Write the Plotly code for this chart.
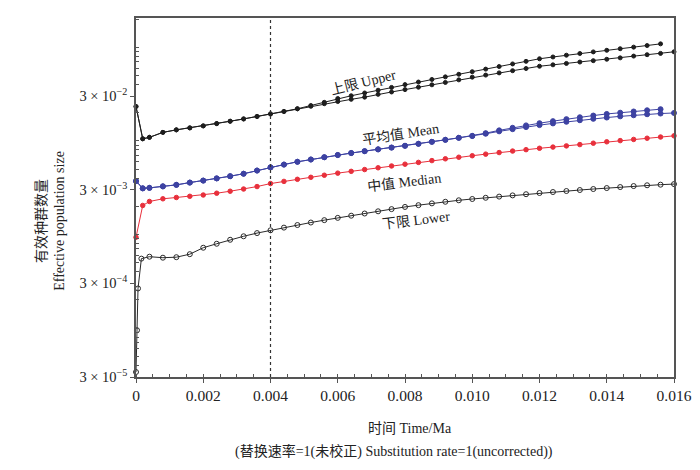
import plotly.graph_objects as go

# ---------------- data ----------------
time_ma = [0, 0.0002, 0.0004, 0.0008, 0.0012, 0.0016, 0.002, 0.0024, 0.0028, 0.0032,
           0.0036, 0.004, 0.0044, 0.0048, 0.0052, 0.0056, 0.006, 0.0064, 0.0068, 0.0072,
           0.0076, 0.008, 0.0084, 0.0088, 0.0092, 0.0096, 0.010, 0.0104, 0.0108, 0.0112,
           0.0116, 0.012, 0.0124, 0.0128, 0.0132, 0.0136, 0.014, 0.0144, 0.0148, 0.0152,
           0.0156, 0.016]

time_short = time_ma[:-1]          # first run ends at 0.0156

upper_a = [0.02332, 0.01053, 0.01092, 0.01234, 0.01312, 0.01378, 0.01447, 0.01531, 0.01623, 0.01717,
           0.01826, 0.01941, 0.02063, 0.02204, 0.02389, 0.02584, 0.02836, 0.03037, 0.03252, 0.03483,
           0.03730, 0.03995, 0.04257, 0.04536, 0.04835, 0.05152, 0.05491, 0.05851, 0.06236, 0.06646,
           0.07082, 0.07547, 0.07887, 0.08242, 0.08592, 0.08935, 0.09292, 0.09663, 0.1005, 0.1045,
           0.1089]

upper_b = [0.02332, 0.01053, 0.01092, 0.01234, 0.01312, 0.01378, 0.01447, 0.01531, 0.01623, 0.01717,
           0.01826, 0.01941, 0.02063, 0.02204, 0.02343, 0.02497, 0.02635, 0.02781, 0.02935, 0.03143,
           0.03333, 0.03534, 0.03748, 0.03975, 0.04215, 0.04492, 0.04799, 0.05052, 0.05331, 0.05627,
           0.05938, 0.06282, 0.06501, 0.06727, 0.06962, 0.07204, 0.07455, 0.07715, 0.08063, 0.08343,
           0.08613, 0.08957]

mean_a = [0.003721, 0.003112, 0.003150, 0.003268, 0.003391, 0.003586, 0.003767, 0.003975, 0.004195, 0.004459,
          0.004822, 0.005214, 0.005585, 0.005982, 0.006329, 0.006694, 0.007064, 0.007419, 0.007772, 0.008120,
          0.008487, 0.008870, 0.009314, 0.009782, 0.01027, 0.01079, 0.01133, 0.01210, 0.01296, 0.01381,
          0.01465, 0.01546, 0.01627, 0.01709, 0.01790, 0.01866, 0.01941, 0.02003, 0.02063, 0.02125,
          0.02183]

mean_b = [0.003721, 0.003112, 0.003150, 0.003268, 0.003391, 0.003586, 0.003767, 0.003975, 0.004195, 0.004459,
          0.004822, 0.005214, 0.005585, 0.005982, 0.006329, 0.006694, 0.007064, 0.007419, 0.007772, 0.008120,
          0.008487, 0.008870, 0.009314, 0.009782, 0.01027, 0.01079, 0.01127, 0.01193, 0.01265, 0.01335,
          0.01405, 0.01475, 0.01538, 0.01600, 0.01663, 0.01721, 0.01777, 0.01830, 0.01880, 0.01927,
          0.01960, 0.01989]

median = [0.000934, 0.002043, 0.002253, 0.002407, 0.002485, 0.002559, 0.002642, 0.002761, 0.002899, 0.003061,
          0.003252, 0.003500, 0.003694, 0.003888, 0.004083, 0.004298, 0.004525, 0.004728, 0.004942, 0.005163,
          0.005397, 0.005641, 0.005894, 0.006160, 0.006438, 0.006694, 0.006944, 0.007221, 0.007508, 0.007791,
          0.008061, 0.008343, 0.008592, 0.008848, 0.009134, 0.009451, 0.009782, 0.01007, 0.01037, 0.01068,
          0.01100, 0.01133]

time_lower = [0, 0.00003, 0.00006, 0.00016] + time_ma[2:]
lower = [3.39e-5, 9.48e-5, 2.65e-4, 5.52e-4,
         5.79e-4, 5.65e-4, 5.72e-4, 6.16e-4, 7.22e-4, 7.96e-4, 8.78e-4, 9.57e-4, 1.035e-3, 1.109e-3,
         1.184e-3, 1.262e-3, 1.342e-3, 1.423e-3, 1.505e-3, 1.588e-3, 1.676e-3, 1.769e-3, 1.867e-3, 1.970e-3,
         2.058e-3, 2.151e-3, 2.237e-3, 2.320e-3, 2.395e-3, 2.467e-3, 2.540e-3, 2.616e-3, 2.694e-3, 2.774e-3,
         2.843e-3, 2.913e-3, 2.986e-3, 3.061e-3, 3.135e-3, 3.213e-3, 3.292e-3, 3.357e-3, 3.406e-3, 3.457e-3]

x_tick_vals = [0, 0.002, 0.004, 0.006, 0.008, 0.010, 0.012, 0.014, 0.016]
x_tick_text = ["0", "0.002", "0.004", "0.006", "0.008", "0.010", "0.012", "0.014", "0.016"]
y_tick_vals = [3e-5, 3e-4, 3e-3, 3e-2]
y_tick_text = ["3 × 10<sup>−5</sup>", "3 × 10<sup>−4</sup>", "3 × 10<sup>−3</sup>", "3 × 10<sup>−2</sup>"]
y_minor_vals = [m * 10.0 ** e for e in (-5, -4, -3, -2, -1) for m in (1, 2, 4, 5, 6, 7, 8, 9)]
divider_time = 0.004

labels = ["上限 Upper", "平均值 Mean", "中值 Median", "下限 Lower"]
x_title = "时间 Time/Ma"
y_title = "有效种群数量<br>Effective population size"
caption = "(替换速率=1(未校正) Substitution rate=1(uncorrected))"

FONT = "Liberation Serif, 'Noto Sans CJK SC', serif"
BLACK = "#1e1e1e"
BLUE = "#3d42a2"
RED = "#e8303c"
AXIS = "#555555"

# ---------------- figure ----------------
fig = go.Figure()

def add(x, y, color, symbol="circle", size=4.5, lw=1.0, fill=None):
    fig.add_trace(go.Scatter(
        x=x, y=y, mode="lines+markers", cliponaxis=False, showlegend=False,
        line=dict(color=color, width=lw),
        marker=dict(symbol=symbol, size=size, color=fill or color,
                    line=dict(color=color, width=1)),
    ))

add(time_lower, lower, "#2a2a2a", symbol="circle-open", size=5, lw=1.0)
add(time_ma, median, RED, size=4.5)
add(time_ma, mean_b, BLUE, size=5)
add(time_short, mean_a, BLUE, size=5)
add(time_ma, upper_b, BLACK, size=4)
add(time_short, upper_a, BLACK, size=4)

fig.add_shape(type="line", xref="x", yref="paper", x0=divider_time, x1=divider_time,
              y0=0, y1=1, line=dict(color="#333333", width=1.2, dash="dot"))

label_pos = [(0.4225, 0.82, -14), (0.491, 0.676, -9), (0.498, 0.543, -7), (0.520, 0.435, -7)]
for txt, (px, py, ang) in zip(labels, label_pos):
    fig.add_annotation(text=txt, xref="paper", yref="paper", x=px, y=py, showarrow=False,
                       xanchor="center", yanchor="middle",
                       textangle=ang, font=dict(family=FONT, size=14, color="#222"))

fig.add_annotation(text=y_title, xref="paper", yref="paper", x=-0.158, y=0.435,
                   showarrow=False, textangle=-90, xanchor="center", yanchor="middle",
                   font=dict(family=FONT, size=14, color="#222"))
fig.add_annotation(text=x_title, xref="paper", yref="paper", x=0.509, y=-0.143,
                   showarrow=False, xanchor="center", yanchor="middle",
                   font=dict(family=FONT, size=14, color="#222"))
fig.add_annotation(text=caption, xref="paper", yref="paper", x=0.48, y=-0.208,
                   showarrow=False, xanchor="center", yanchor="middle",
                   font=dict(family=FONT, size=14, color="#222"))

# the page body adds an 8 px margin, so the figure is 8 px smaller and shifted
fig.update_layout(
    width=692, height=462,
    margin=dict(l=128, r=22, t=8, b=93),
    paper_bgcolor="white", plot_bgcolor="white",
    font=dict(family=FONT, size=14, color="#222"),
    xaxis=dict(range=[0, 0.016], tickmode="array", tickvals=x_tick_vals, ticktext=x_tick_text,
               showgrid=False, zeroline=False, showline=True, linecolor=AXIS, linewidth=1.5,
               mirror=True, ticks="outside", ticklen=4, tickcolor=AXIS, tickwidth=1.2,
               tickfont=dict(family=FONT, size=15.5, color="#222"),
               minor=dict(tickmode="linear", tick0=0, dtick=0.0005, ticks="inside",
                          ticklen=3, tickcolor=AXIS, showgrid=False)),
    yaxis=dict(type="log", range=[-4.5229, -0.6866], tickmode="array",
               tickvals=y_tick_vals, ticktext=y_tick_text,
               showgrid=False, zeroline=False, showline=True, linecolor=AXIS, linewidth=1.5,
               mirror=True, ticks="outside", ticklen=4, tickcolor=AXIS, tickwidth=1.2,
               tickfont=dict(family=FONT, size=14.5, color="#222"),
               minor=dict(tickvals=y_minor_vals, ticks="inside", ticklen=3,
                          tickcolor=AXIS, showgrid=False)),
)

fig.write_html("out.html")
